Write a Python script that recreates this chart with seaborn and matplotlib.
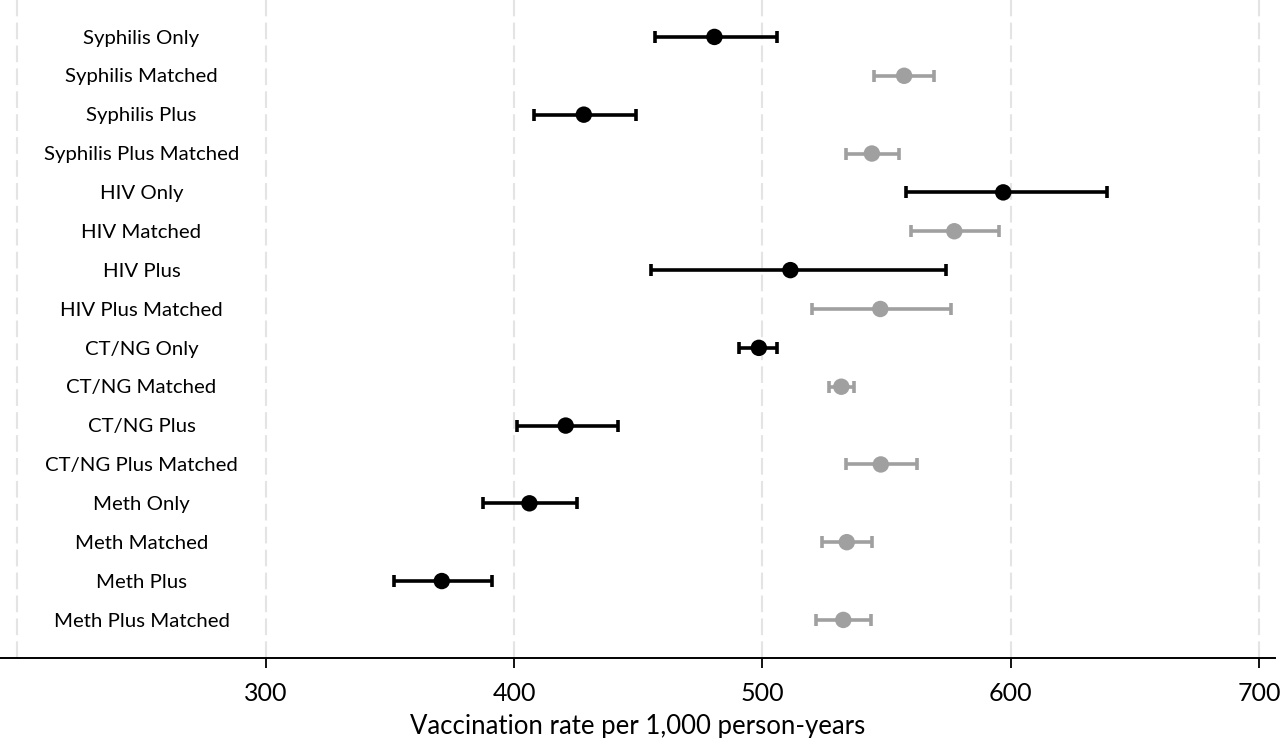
import matplotlib
matplotlib.use("Agg")
import matplotlib.pyplot as plt
import seaborn as sns
import pandas as pd

# data (rate per 1,000 person-years, 95% CI)
groups = ["Syphilis Only", "Syphilis Matched", "Syphilis Plus", "Syphilis Plus Matched",
          "HIV Only", "HIV Matched", "HIV Plus", "HIV Plus Matched",
          "CT/NG Only", "CT/NG Matched", "CT/NG Plus", "CT/NG Plus Matched",
          "Meth Only", "Meth Matched", "Meth Plus", "Meth Plus Matched"]
rate = [480.7, 557.1, 428.1, 544.1,
        597.0, 577.3, 511.3, 547.5,
        498.6, 531.8, 420.8, 547.7,
        406.2, 534.0, 370.9, 532.6]
ci_low = [456.8, 545.0, 408.2, 533.6,
          557.9, 559.9, 455.2, 520.1,
          490.7, 527.0, 401.1, 533.8,
          387.6, 524.1, 351.7, 521.7]
ci_high = [506.0, 569.2, 449.1, 554.9,
           638.7, 595.2, 574.1, 576.1,
           506.1, 536.8, 441.9, 562.2,
           425.3, 544.3, 391.1, 543.9]
cohort = ["Exposure", "Matched"] * 8
xticks = [300, 400, 500, 600, 700]
grid_vals = [200, 300, 400, 500, 600, 700]

df = pd.DataFrame({"group": groups, "rate": rate, "lo": ci_low, "hi": ci_high, "cohort": cohort})
df["pos"] = range(len(df))

colors = {"Exposure": "black", "Matched": "#a0a0a0"}

sns.set_theme(style="white")
plt.rcParams["font.family"] = ["Lato", "DejaVu Sans"]

fig = plt.figure(figsize=(12.8, 7.38), dpi=100)
ax = fig.add_axes([0.0, 0.1084, 0.996, 0.8916])

for gv in grid_vals:
    ax.axvline(gv, color="#e4e4e4", lw=1.5, dashes=(8, 3), zorder=0)

for name, sub in df.groupby("cohort"):
    ax.errorbar(sub["rate"], sub["pos"],
                xerr=[sub["rate"] - sub["lo"], sub["hi"] - sub["rate"]],
                fmt="none", ecolor=colors[name], elinewidth=2.6,
                capsize=4, capthick=2.6, zorder=2)

sns.scatterplot(data=df, x="rate", y="pos", hue="cohort", palette=colors,
                s=140, edgecolor="none", legend=False, zorder=3, ax=ax)

for i, g in enumerate(groups):
    ax.text(250, i + 0.03, g, ha="center", va="center", fontsize=14.7, color="black")

ax.set_xlim(193.0, 706.4)
ax.set_ylim(15.98, -0.95)
ax.set_xticks(xticks)
ax.set_yticks([])
ax.set_ylabel("")
ax.set_xlabel("Vaccination rate per 1,000 person-years", fontsize=18.5, labelpad=7,
              color="black")
ax.tick_params(axis="x", direction="out", length=7, width=1.3, color="black",
               labelcolor="black", labelsize=18, pad=10, bottom=True)

for side in ["top", "left", "right"]:
    ax.spines[side].set_visible(False)
ax.spines["bottom"].set_color("black")
ax.spines["bottom"].set_linewidth(1.4)

fig.savefig("out.png", dpi=100)
